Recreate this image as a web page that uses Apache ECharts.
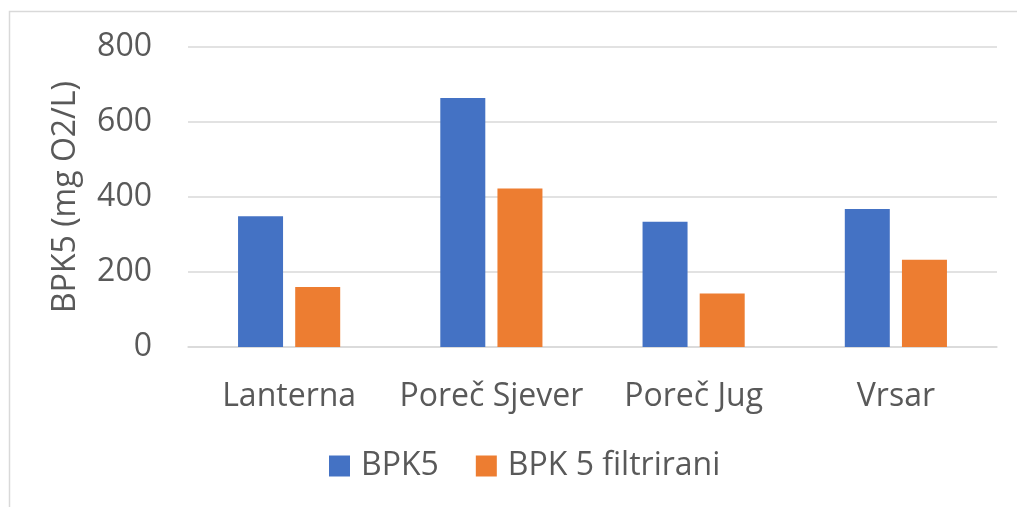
<!DOCTYPE html>
<html lang="hr">
  <head>
    <meta charset="UTF-8" />
    <title>BPK5</title>
    <style>
      html, body { margin: 0; padding: 0; background: #fff; }
      #main { width: 1017px; height: 507px; }
    </style>
  </head>
  <body>
    <div id="main"></div>
    <script src="https://cdn.jsdelivr.net/npm/echarts@6/dist/echarts.min.js"></script>
    <script>
      // podaci s grafa
      const categories = ['Lanterna', 'Poreč Sjever', 'Poreč Jug', 'Vrsar']
      const bpk5 = [349, 664, 334, 368]
      const bpk5Filtrirani = [160, 423, 143, 233]
      const yTicks = [0, 200, 400, 600, 800]

      const font = '"Open Sans", "Noto Sans", sans-serif'
      const textColor = '#595959'

      let myChart = echarts.init(document.getElementById('main'))
      let option = {
        animation: false,
        color: ['#4472C4', '#ED7D31'],
        textStyle: { fontFamily: font },
        graphic: [
          {
            // okvir grafa
            type: 'rect',
            shape: { x: 9.5, y: 11.5, width: 1100, height: 600 },
            style: { fill: 'none', stroke: '#d9d9d9', lineWidth: 1.5 },
            silent: true
          }
        ],
        grid: { left: 188, right: 20, top: 47, bottom: 160 },
        legend: {
          bottom: 20,
          left: 324,
          itemWidth: 21,
          itemHeight: 21,
          itemGap: 37,
          icon: 'rect',
          textStyle: { fontFamily: font, fontSize: 32, color: textColor, padding: [0, 0, 0, 6] },
          data: ['BPK5', 'BPK 5 filtrirani']
        },
        xAxis: {
          type: 'category',
          data: categories,
          axisLine: { show: true, lineStyle: { color: '#d9d9d9', width: 1.5 } },
          axisTick: { show: false },
          axisLabel: { fontFamily: font, fontSize: 32, color: textColor, margin: 34, interval: 0 }
        },
        yAxis: {
          type: 'value',
          min: yTicks[0],
          max: yTicks[yTicks.length - 1],
          interval: yTicks[1] - yTicks[0],
          name: 'BPK5 (mg O2/L)',
          nameLocation: 'middle',
          nameGap: 106,
          nameTextStyle: { fontFamily: font, fontSize: 32, color: textColor },
          axisLine: { show: false },
          axisTick: { show: false },
          axisLabel: { fontFamily: font, fontSize: 32, color: textColor, margin: 36 },
          splitLine: { lineStyle: { color: '#d9d9d9', width: 1.5 } }
        },
        series: [
          {
            name: 'BPK5',
            type: 'bar',
            data: bpk5,
            barWidth: 45,
            barGap: '27%'
          },
          {
            name: 'BPK 5 filtrirani',
            type: 'bar',
            data: bpk5Filtrirani,
            barWidth: 45,
            barGap: '27%'
          }
        ]
      }
      myChart.setOption(option)
    </script>
  </body>
</html>
